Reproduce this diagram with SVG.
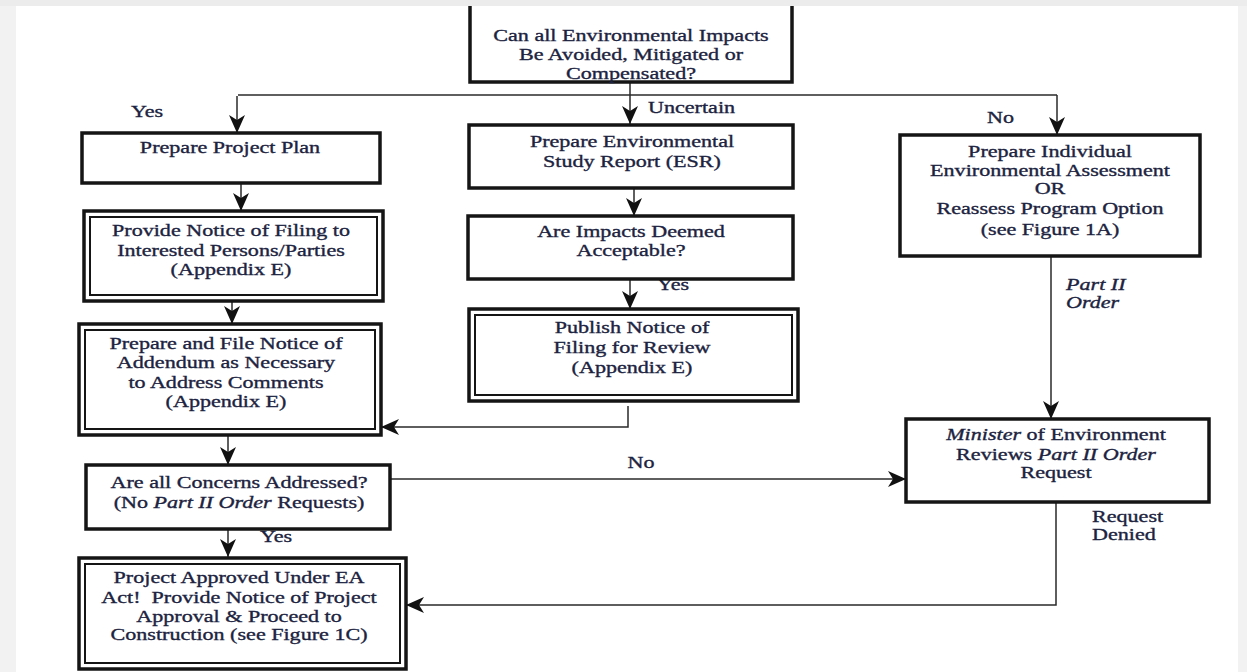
<svg xmlns="http://www.w3.org/2000/svg" width="1247" height="672" viewBox="0 0 1247 672">
<defs>
<marker id="ah" markerUnits="userSpaceOnUse" markerWidth="18" markerHeight="18" refX="18" refY="9" orient="auto">
<path d="M0,1 L18,9 L0,17 L5,9 z" fill="#111"/>
</marker>
<style>
.box{fill:#fff;stroke:#151515;stroke-width:3.5}
.inner{fill:none;stroke:#151515;stroke-width:2}
.t{font-family:"Liberation Serif","Times New Roman",serif;font-size:17px;fill:#1c2340;stroke:#1c2340;stroke-width:0.35;text-anchor:middle}
.l{font-family:"Liberation Serif","Times New Roman",serif;font-size:17px;fill:#1c2340;stroke:#1c2340;stroke-width:0.35}
.i{font-style:italic}
.c{fill:none;stroke:#2a2a2a;stroke-width:1.5}
.ca{fill:none;stroke:#2a2a2a;stroke-width:1.5;marker-end:url(#ah)}
</style>
</defs>
<rect x="0" y="0" width="1247" height="672" fill="#f2f2f2"/>
<rect x="16" y="6" width="1222" height="666" fill="#fff"/>

<g id="connectors">
<path class="c" d="M238,95 H1057"/>
<path class="ca" d="M237,96 V133"/>
<path class="ca" d="M630,82 V124"/>
<path class="ca" d="M1057,95 V135"/>
<path class="ca" d="M241,183 V211"/>
<path class="ca" d="M634,188 V216"/>
<path class="ca" d="M232,301 V324"/>
<path class="ca" d="M630,279 V309"/>
<path class="ca" d="M628,406 V427 H381"/>
<path class="ca" d="M1051,256 V419"/>
<path class="ca" d="M228,435 V465"/>
<path class="ca" d="M390,479 H906"/>
<path class="ca" d="M228,529 V557"/>
<path class="ca" d="M1056,502 V605 H406"/>
</g>

<g id="labels">
<text class="l" transform="translate(131 0) scale(1.3 1)"><tspan x="0" y="117">Yes</tspan></text>
<text class="l" transform="translate(648 0) scale(1.3 1)"><tspan x="0" y="113">Uncertain</tspan></text>
<text class="l" transform="translate(987 0) scale(1.3 1)"><tspan x="0" y="123">No</tspan></text>
<text class="l" transform="translate(657 0) scale(1.3 1)"><tspan x="0" y="290">Yes</tspan></text>
<text class="l i" transform="translate(1066 0) scale(1.3 1)"><tspan x="0" y="290">Part II</tspan><tspan x="0" y="308">Order</tspan></text>
<text class="t" transform="translate(641 0) scale(1.3 1)"><tspan x="0" y="468">No</tspan></text>
<text class="l" transform="translate(260 0) scale(1.3 1)"><tspan x="0" y="542">Yes</tspan></text>
<text class="l" transform="translate(1092 0) scale(1.3 1)"><tspan x="0" y="522">Request</tspan><tspan x="0" y="540">Denied</tspan></text>
</g>

<g id="n-question">
<rect class="box" x="470" y="-6" width="322" height="88"/>
<text class="t" transform="translate(631 0) scale(1.3 1)"><tspan x="0" y="41">Can all Environmental Impacts</tspan><tspan x="0" y="60">Be Avoided, Mitigated or</tspan><tspan x="0" y="79">Compensated?</tspan></text>
</g>

<g id="n-plan">
<rect class="box" x="82" y="133" width="298" height="50"/>
<text class="t" transform="translate(230 0) scale(1.3 1)"><tspan x="0" y="153">Prepare Project Plan</tspan></text>
</g>

<g id="n-notice">
<rect class="box" x="84" y="211" width="299" height="90"/>
<rect class="inner" x="90" y="217" width="287" height="78"/>
<text class="t" transform="translate(231 0) scale(1.3 1)"><tspan x="0" y="236">Provide Notice of Filing to</tspan><tspan x="0" y="256">Interested Persons/Parties</tspan><tspan x="0" y="275">(Appendix E)</tspan></text>
</g>

<g id="n-addendum">
<rect class="box" x="79" y="324" width="302" height="111"/>
<rect class="inner" x="85" y="330" width="290" height="99"/>
<text class="t" transform="translate(226 0) scale(1.3 1)"><tspan x="0" y="349">Prepare and File Notice of</tspan><tspan x="0" y="368">Addendum as Necessary</tspan><tspan x="0" y="388">to Address Comments</tspan><tspan x="0" y="407">(Appendix E)</tspan></text>
</g>

<g id="n-concerns">
<rect class="box" x="86" y="465" width="304" height="64"/>
<text class="t" transform="translate(239 0) scale(1.3 1)"><tspan x="0" y="488">Are all Concerns Addressed?</tspan><tspan x="0" y="508">(No <tspan class="i">Part II Order</tspan> Requests)</tspan></text>
</g>

<g id="n-approved">
<rect class="box" x="79" y="558" width="327" height="111"/>
<rect class="inner" x="85" y="564" width="315" height="99"/>
<text class="t" transform="translate(239 0) scale(1.3 1)"><tspan x="0" y="583">Project Approved Under EA</tspan><tspan x="0" y="603">Act!&#160; Provide Notice of Project</tspan><tspan x="0" y="622">Approval &amp; Proceed to</tspan><tspan x="0" y="640">Construction (see Figure 1C)</tspan></text>
</g>

<g id="n-esr">
<rect class="box" x="469" y="125" width="324" height="63"/>
<text class="t" transform="translate(632 0) scale(1.3 1)"><tspan x="0" y="147">Prepare Environmental</tspan><tspan x="0" y="167">Study Report (ESR)</tspan></text>
</g>

<g id="n-acceptable">
<rect class="box" x="468" y="216" width="325" height="63"/>
<text class="t" transform="translate(631 0) scale(1.3 1)"><tspan x="0" y="237">Are Impacts Deemed</tspan><tspan x="0" y="256">Acceptable?</tspan></text>
</g>

<g id="n-publish">
<rect class="box" x="469" y="309" width="329" height="92"/>
<rect class="inner" x="475" y="315" width="317" height="80"/>
<text class="t" transform="translate(632 0) scale(1.3 1)"><tspan x="0" y="333">Publish Notice of</tspan><tspan x="0" y="353">Filing for Review</tspan><tspan x="0" y="373">(Appendix E)</tspan></text>
</g>

<g id="n-individual">
<rect class="box" x="900" y="135" width="300" height="121"/>
<text class="t" transform="translate(1050 0) scale(1.3 1)"><tspan x="0" y="157">Prepare Individual</tspan><tspan x="0" y="176">Environmental Assessment</tspan><tspan x="0" y="194">OR</tspan><tspan x="0" y="214">Reassess Program Option</tspan><tspan x="0" y="235">(see Figure 1A)</tspan></text>
</g>

<g id="n-minister">
<rect class="box" x="906" y="419" width="303" height="83"/>
<text class="t" transform="translate(1056 0) scale(1.3 1)"><tspan x="0" y="440"><tspan class="i">Minister</tspan> of Environment</tspan><tspan x="0" y="460">Reviews <tspan class="i">Part II Order</tspan></tspan><tspan x="0" y="478">Request</tspan></text>
</g>

<rect x="0" y="0" width="1247" height="6" fill="#ececec"/>
</svg>
